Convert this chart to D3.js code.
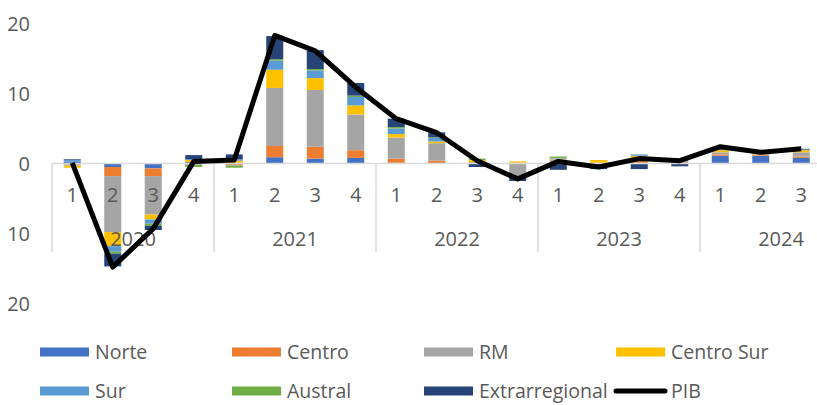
<!DOCTYPE html>
<meta charset="utf-8">
<html>
<body style="margin:0; background-color: white;">
<script src="https://d3js.org/d3.v7.min.js"></script>
<div id="chart"></div>
<script>

// quarters and years
var quarters = ["1","2","3","4","1","2","3","4","1","2","3","4","1","2","3","4","1","2","3"];
var years = ["2020","2021","2022","2023","2024"];
var yearQuarters = [4, 4, 4, 4, 3];

// regional contributions (pp)
var norte     = [0.3,-0.5,-0.7,0.2,0.1,0.9,0.7,0.8,0.1,0.0,0.0,0.0,0.1,0.0,0.1,0.1,1.1,1.1,0.8];
var centro    = [-0.1,-1.3,-1.1,0.0,-0.2,1.6,1.7,1.1,0.6,0.4,0.0,0.1,0.2,0.1,0.3,0.1,0.2,0.1,0.2];
var rm        = [-0.2,-8.0,-5.5,-0.2,-0.1,8.3,8.1,5.1,3.0,2.5,0.2,-1.8,0.3,-0.1,0.2,0.1,0.3,0.1,0.6];
var centroSur = [-0.3,-2.0,-0.7,0.3,0.3,2.6,1.7,1.3,0.5,0.25,0.3,0.2,0.1,0.4,0.5,0.0,0.3,0.1,0.3];
var sur       = [0.2,-0.8,-0.6,0.1,0.2,1.3,1.1,1.2,0.8,0.5,0.0,-0.1,0.1,0.0,0.2,0.3,0.1,0.1,0.1];
var austral   = [0.0,-0.3,-0.3,-0.3,-0.3,0.2,0.2,0.2,0.2,0.1,0.2,0.0,0.2,0.0,0.0,0.0,0.0,0.0,0.0];
var extra     = [0.1,-1.8,-0.6,0.6,0.7,3.3,2.7,1.8,1.2,0.7,-0.5,-0.6,-0.9,-0.7,-0.8,-0.4,0.1,0.1,0.1];
var pib       = [0.1,-14.8,-9.3,0.3,0.5,18.3,16.1,10.9,6.4,4.4,0.4,-2.2,0.3,-0.5,0.7,0.4,2.4,1.6,2.1];

var seriesNames = ["Norte","Centro","RM","Centro Sur","Sur","Austral","Extrarregional"];
var seriesVals = [norte, centro, rm, centroSur, sur, austral, extra];
var colors = ["#4472C4","#ED7D31","#A5A5A5","#FFC000","#5B9BD5","#70AD47","#264478"];
var yTicks = [20, 10, 0, -10, -20];

var width = 817, height = 405;
var txt = "#595959", font = "'Open Sans', sans-serif";

var svg = d3.select("#chart").append("svg")
  .attr("width", width).attr("height", height)
  .style("font-family", font);

// build table for stacking
var table = quarters.map(function(q, i) {
  var row = {i: i};
  seriesNames.forEach(function(n, k) { row[n] = seriesVals[k][i]; });
  return row;
});

var x = d3.scaleBand()
  .domain(d3.range(quarters.length))
  .range([52, 52 + 40.5 * quarters.length])
  .paddingInner(0.58).paddingOuter(0.29);

var y = d3.scaleLinear().domain([-20, 20]).range([303.5, 23.5]);

var stack = d3.stack().keys(seriesNames)
  .order(d3.stackOrderNone).offset(d3.stackOffsetDiverging);
var layers = stack(table);

// bars
svg.selectAll("g.layer")
  .data(layers)
  .enter().append("g")
    .attr("fill", function(d, k) { return colors[k]; })
  .selectAll("rect")
  .data(function(d) { return d; })
  .enter().append("rect")
    .attr("x", function(d) { return x(d.data.i); })
    .attr("width", x.bandwidth())
    .attr("y", function(d) { return y(Math.max(d[0], d[1])); })
    .attr("height", function(d) { return Math.abs(y(d[0]) - y(d[1])); });

// y tick labels (shown without sign, as in the source)
svg.selectAll("text.ytick")
  .data(yTicks)
  .enter().append("text")
    .attr("x", 30)
    .attr("y", function(d) { return y(d); })
    .attr("dy", "0.35em")
    .attr("text-anchor", "end")
    .attr("font-size", "20px")
    .attr("fill", txt)
    .text(function(d) { return Math.abs(d); });

// category axis
var x0 = x.range()[0], step = x.step();
svg.append("line")
  .attr("x1", x0).attr("x2", width)
  .attr("y1", y(0)).attr("y2", y(0))
  .attr("stroke", "#d9d9d9").attr("stroke-width", 1.5);

var bounds = [0];
yearQuarters.forEach(function(n, k) { bounds.push(bounds[k] + n); });

svg.selectAll("line.sep")
  .data(bounds)
  .enter().append("line")
    .attr("x1", function(d) { return x0 + d * step; })
    .attr("x2", function(d) { return x0 + d * step; })
    .attr("y1", y(0)).attr("y2", 252)
    .attr("stroke", "#d9d9d9").attr("stroke-width", 1.5);

svg.selectAll("text.q")
  .data(quarters)
  .enter().append("text")
    .attr("x", function(d, i) { return x(i) + x.bandwidth() / 2; })
    .attr("y", 195).attr("dy", "0.35em")
    .attr("text-anchor", "middle")
    .attr("font-size", "20px")
    .attr("fill", txt)
    .text(function(d) { return d; });

svg.selectAll("text.yr")
  .data(years)
  .enter().append("text")
    .attr("x", function(d, k) { return x0 + step * (bounds[k] + 2); })
    .attr("y", 239).attr("dy", "0.35em")
    .attr("text-anchor", "middle")
    .attr("font-size", "20px")
    .attr("fill", txt)
    .text(function(d) { return d; });

// PIB line
var line = d3.line()
  .x(function(d, i) { return x(i) + x.bandwidth() / 2; })
  .y(function(d) { return y(d); });

svg.append("path")
  .datum(pib)
  .attr("d", line)
  .attr("fill", "none")
  .attr("stroke", "black")
  .attr("stroke-width", 5)
  .attr("stroke-linejoin", "round");

// legend
var legendItems = [
  {name: "Norte", color: colors[0]},
  {name: "Centro", color: colors[1]},
  {name: "RM", color: colors[2]},
  {name: "Centro Sur", color: colors[3]},
  {name: "Sur", color: colors[4]},
  {name: "Austral", color: colors[5]},
  {name: "Extrarregional", color: colors[6]},
  {name: "PIB", color: "black", line: true}
];

var lg = svg.selectAll("g.legend")
  .data(legendItems)
  .enter().append("g")
    .attr("transform", function(d, i) {
      return "translate(" + (40 + 192 * (i % 4)) + "," + (i < 4 ? 352 : 391) + ")";
    });

lg.each(function(d) {
  var g = d3.select(this);
  if (d.line) {
    g.append("line").attr("x1", 0).attr("x2", 49).attr("y1", 0).attr("y2", 0)
      .attr("stroke", d.color).attr("stroke-width", 5).attr("stroke-linecap", "round");
  } else {
    g.append("rect").attr("x", 0).attr("y", -4.5).attr("width", 49).attr("height", 9)
      .attr("fill", d.color);
  }
  g.append("text").attr("x", 55).attr("dy", "0.35em")
    .attr("font-size", "19.5px").attr("fill", txt)
    .text(d.name);
});

</script>
</body>
</html>
